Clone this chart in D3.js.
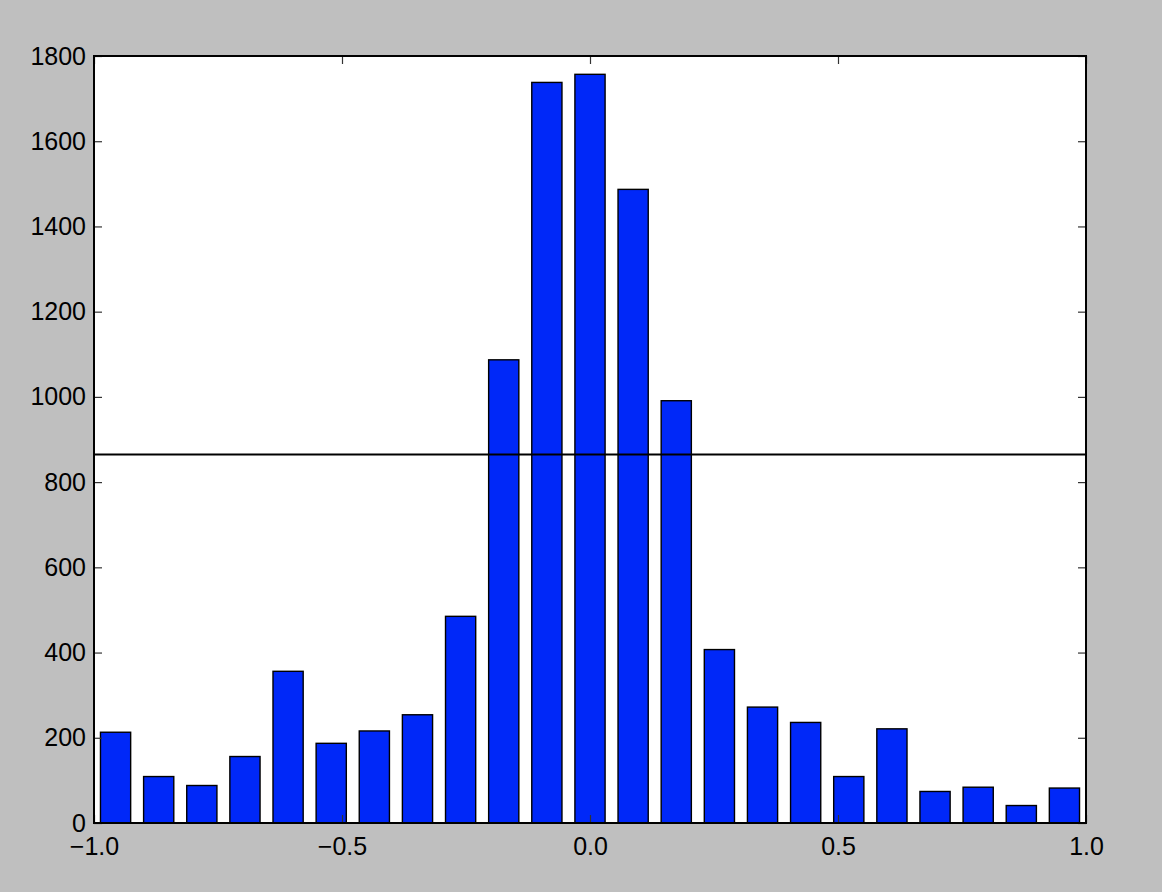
<!DOCTYPE html>
<html>
<head>
<meta charset="utf-8">
<script src="https://cdn.jsdelivr.net/npm/d3@7"></script>
<style>
  html, body { margin: 0; padding: 0; background: #bfbfbf; }
  svg { display: block; }
</style>
</head>
<body>
<svg id="chart" width="1162" height="892"></svg>
<script>
// 23 histogram bins over [-1, 1], counts
var binEdges = d3.range(24).map(function (i) { return -1 + i * 2 / 23; });
var counts = [213, 109, 88, 156, 356, 187, 216, 254, 485, 1087, 1738, 1757, 1487, 991, 407, 272, 236, 109, 221, 74, 84, 41, 82];
var xTicks = [-1.0, -0.5, 0.0, 0.5, 1.0];
var yTicks = [0, 200, 400, 600, 800, 1000, 1200, 1400, 1600, 1800];
var hline = [865];

var m = { left: 94, right: 1086, top: 56, bottom: 823 };
var rwidth = 0.7;
var FONT = '"Liberation Sans", Arial, Helvetica, sans-serif';

var svg = d3.select("#chart");
var x = d3.scaleLinear().domain([-1, 1]).range([m.left, m.right]);
var y = d3.scaleLinear().domain([0, 1800]).range([m.bottom, m.top]);

svg.append("rect").attr("x", m.left).attr("y", m.top)
  .attr("width", m.right - m.left).attr("height", m.bottom - m.top).attr("fill", "#fff");

var bins = counts.map(function (c, i) { return { x0: binEdges[i], x1: binEdges[i + 1], n: c }; });
svg.append("g").selectAll("rect").data(bins).enter().append("rect")
  .attr("x", function (d) { var w = x(d.x1) - x(d.x0); return x(d.x0) + w * (1 - rwidth) / 2; })
  .attr("width", function (d) { return (x(d.x1) - x(d.x0)) * rwidth; })
  .attr("y", function (d) { return y(d.n); })
  .attr("height", function (d) { return y(0) - y(d.n); })
  .attr("fill", "#0028f8").attr("stroke", "#000").attr("stroke-width", 1.4);

svg.append("g").selectAll("line").data(hline).enter().append("line")
  .attr("x1", m.left).attr("x2", m.right)
  .attr("y1", function (d) { return y(d); }).attr("y2", function (d) { return y(d); })
  .attr("stroke", "#000").attr("stroke-width", 2);

var fmtX = function (d) { return d3.format(".1f")(d).replace("-", "\u2212"); };

// 축 (눈금은 안쪽으로)
function style(g) {
  g.attr("font-family", FONT).attr("font-size", 25);
  g.select(".domain").remove();
  g.selectAll(".tick line").attr("stroke", "#333").attr("stroke-width", 1.2);
  g.selectAll(".tick text").attr("fill", "#000");
}
svg.append("g").attr("transform", "translate(0," + m.bottom + ")")
  .call(d3.axisBottom(x).tickValues(xTicks).tickFormat(fmtX).tickSizeInner(-8).tickPadding(14))
  .call(style);
svg.append("g").attr("transform", "translate(0," + m.top + ")")
  .call(d3.axisTop(x).tickValues(xTicks).tickFormat("").tickSizeInner(-8))
  .call(style);
svg.append("g").attr("transform", "translate(" + m.left + ",0)")
  .call(d3.axisLeft(y).tickValues(yTicks).tickFormat(d3.format("d")).tickSizeInner(-8).tickPadding(8))
  .call(style);
svg.append("g").attr("transform", "translate(" + m.right + ",0)")
  .call(d3.axisRight(y).tickValues(yTicks).tickFormat("").tickSizeInner(-8))
  .call(style);

svg.append("rect").attr("x", m.left).attr("y", m.top)
  .attr("width", m.right - m.left).attr("height", m.bottom - m.top)
  .attr("fill", "none").attr("stroke", "#000").attr("stroke-width", 2);
</script>
</body>
</html>
